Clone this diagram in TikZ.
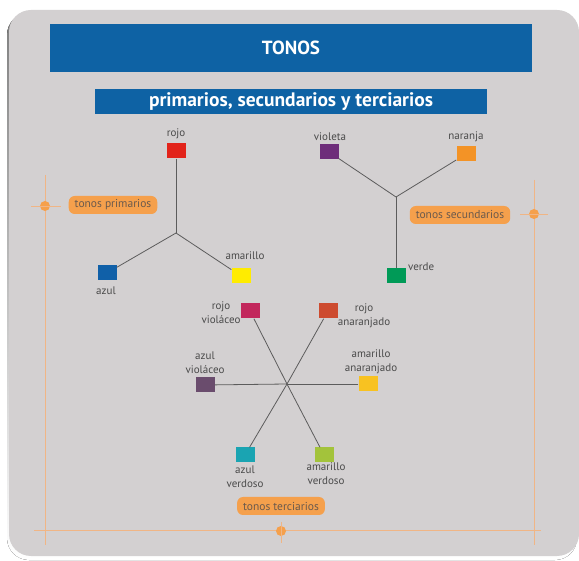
\documentclass[tikz,border=0pt]{standalone}
\usepackage{fontspec}
\setmainfont{PT Sans}
\usetikzlibrary{calc}
\definecolor{panel}{HTML}{D3D0D1}
\definecolor{shade}{HTML}{B4B1B2}
\definecolor{titleblue}{HTML}{0E62A4}
\definecolor{tag}{HTML}{F5A04C}
\definecolor{frame}{HTML}{F0B585}
\definecolor{ink}{HTML}{4A4A4A}
\definecolor{tagink}{HTML}{6B5A4C}
\definecolor{stem}{HTML}{5C5C5C}
\definecolor{rojo}{HTML}{E2231A}
\definecolor{azul}{HTML}{1060A8}
\definecolor{amarillo}{HTML}{FFEC00}
\definecolor{violeta}{HTML}{6E2D7A}
\definecolor{naranja}{HTML}{F39326}
\definecolor{verde}{HTML}{009A57}
\definecolor{rojoVio}{HTML}{C2275C}
\definecolor{rojoAna}{HTML}{CD4B2F}
\definecolor{azulVio}{HTML}{6A4C6D}
\definecolor{amaAna}{HTML}{F8C221}
\definecolor{azulVer}{HTML}{1AA4B2}
\definecolor{amaVer}{HTML}{A3C33B}
\tikzset{
  tonoBox/.style={minimum width=19pt, minimum height=15pt, inner sep=0pt},
  tonoLabel/.style={text=ink, font=\fontsize{11}{14}\selectfont, align=center, inner sep=0pt},
  tonoLine/.style={draw=stem, line width=0.8pt},
  tagBox/.style={fill=tag, rounded corners=6pt, text=tagink, font=\fontsize{11.5}{13}\selectfont, minimum height=18pt, inner xsep=6pt, inner ysep=0pt},
  frameLine/.style={draw=frame, line width=0.8pt},
  frameDot/.style={circle, fill=tag, minimum size=10pt, inner sep=0pt},
  titleBar/.style={fill=titleblue, text=white, inner sep=0pt}
}

\begin{document}
\begin{tikzpicture}[x=1pt, y=-1pt]
  \useasboundingbox (0,0) rectangle (579,561);
  \fill[white] (0,0) rectangle (579,561);
  \fill[shade] (7,13) [rounded corners=22pt] rectangle (577,560);
  \fill[panel] (9,10) [rounded corners=22pt] rectangle (579,556);

  % titles
  \node[titleBar, minimum width=482pt, minimum height=48pt, font=\bfseries\fontsize{19}{21}\selectfont] (title) at (291,48) {TONOS};
  \node[titleBar, minimum width=392pt, minimum height=25pt, font=\bfseries\fontsize{19.5}{21}\selectfont] (subtitle) at (291,101.5) {primarios, secundarios y terciarios};

  % frame
  \draw[frameLine] (45,175) -- (45,545);
  \draw[frameLine] (34,530) -- (541,530);
  \draw[frameLine] (534,180) -- (534,545);
  \node[frameDot] (dotL) at (45,206) {};
  \node[frameDot] (dotR) at (534,214) {};
  \node[frameDot] (dotB) at (281,531) {};
  \draw[frameLine] ($(dotL)+(-14,0)$) -- ($(dotL)+(16,0)$);
  \draw[frameLine] ($(dotR)+(-14,0)$) -- ($(dotR)+(14,0)$);
  \draw[frameLine] ($(dotB)+(0,-9)$) -- ($(dotB)+(0,12)$);

  % tonos primarios
  \coordinate (jPrim) at (176,233);
  \node[tonoBox, fill=rojo] (rojo) at (176,151) {};
  \node[tonoBox, fill=azul] (azul) at (107,273) {};
  \node[tonoBox, fill=amarillo] (amarillo) at (241,276) {};
  \draw[tonoLine] (rojo) -- (jPrim);
  \draw[tonoLine] (jPrim) -- (azul);
  \draw[tonoLine] (jPrim) -- (amarillo);
  \node[tonoLabel] (rojoTxt) at (176,134) {rojo};
  \node[tonoLabel] (azulTxt) at (106,291) {azul};
  \node[tonoLabel] (amarilloTxt) at (245,256) {amarillo};
  \node[tagBox] (tagPrim) at (113,205) {tonos primarios};

  % tonos secundarios
  \coordinate (jSec) at (396,197);
  \node[tonoBox, fill=violeta] (violeta) at (329,152) {};
  \node[tonoBox, fill=naranja] (naranja) at (466,154) {};
  \node[tonoBox, fill=verde] (verde) at (396,276) {};
  \draw[tonoLine] (violeta) -- (jSec);
  \draw[tonoLine] (naranja) -- (jSec);
  \draw[tonoLine] (jSec) -- (verde);
  \node[tonoLabel] (violetaTxt) at (330,137) {violeta};
  \node[tonoLabel] (naranjaTxt) at (466,137) {naranja};
  \node[tonoLabel, anchor=west] (verdeTxt) at (408,267) {verde};
  \node[tagBox] (tagSec) at (460,215) {tonos secundarios};

  % tonos terciarios
  \coordinate (jTer) at (287,384);
  \node[tonoBox, fill=rojoVio] (rojoVio) at (250,311) {};
  \node[tonoBox, fill=rojoAna] (rojoAna) at (328,311) {};
  \node[tonoBox, fill=azulVio] (azulVio) at (205,385) {};
  \node[tonoBox, fill=amaAna] (amaAna) at (368,384) {};
  \node[tonoBox, fill=azulVer] (azulVer) at (245,455) {};
  \node[tonoBox, fill=amaVer] (amaVer) at (324,455) {};
  \foreach \t in {rojoVio,rojoAna,azulVio,amaAna,azulVer,amaVer}
    \draw[tonoLine] (\t) -- (jTer);
  \node[tonoLabel] (rojoVioTxt) at (221,313) {rojo\\violáceo};
  \node[tonoLabel] (rojoAnaTxt) at (364,316) {rojo\\anaranjado};
  \node[tonoLabel] (azulVioTxt) at (205,363) {azul\\violáceo};
  \node[tonoLabel] (amaAnaTxt) at (371,362) {amarillo\\anaranjado};
  \node[tonoLabel] (azulVerTxt) at (245,477) {azul\\verdoso};
  \node[tonoLabel] (amaVerTxt) at (326,474) {amarillo\\verdoso};
  \node[tagBox] (tagTer) at (281,506) {tonos terciarios};
\end{tikzpicture}
\end{document}
